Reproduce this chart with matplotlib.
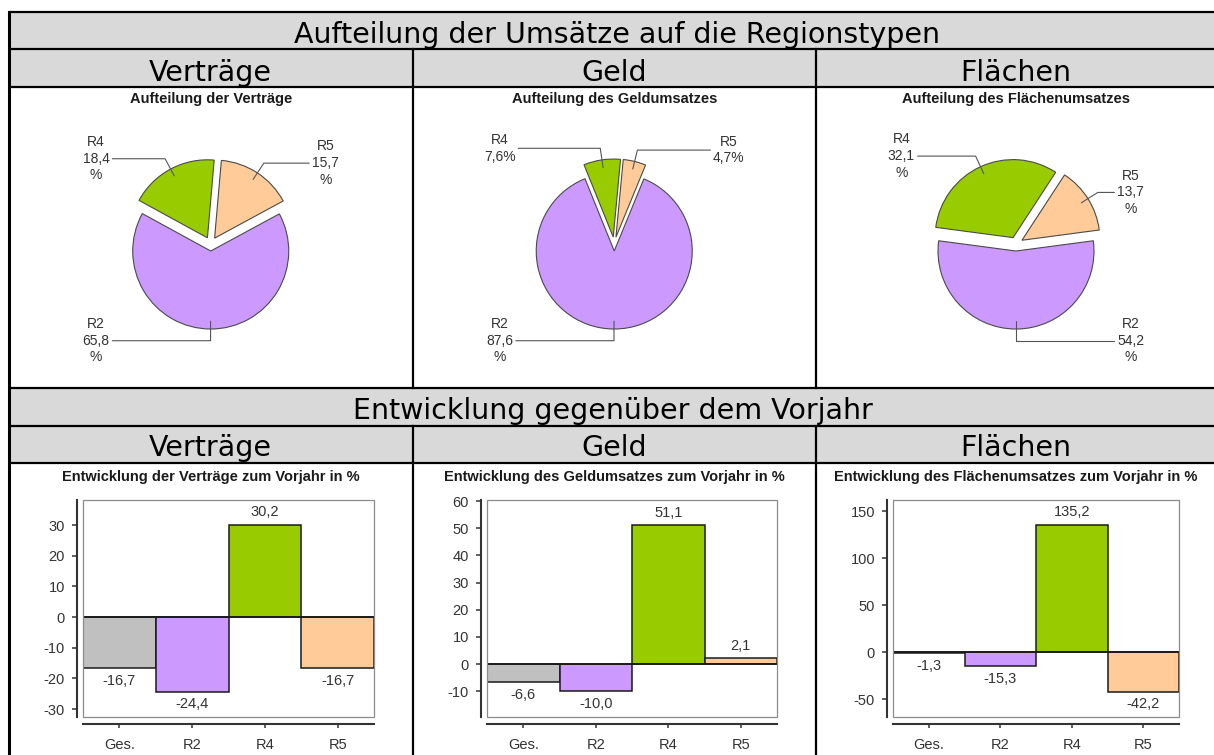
import matplotlib
matplotlib.use("Agg")
import matplotlib.pyplot as plt
from matplotlib.patches import Rectangle
import numpy as np

# ---------------- data ----------------
section_titles = ["Aufteilung der Umsätze auf die Regionstypen",
                  "Entwicklung gegenüber dem Vorjahr"]
column_titles = ["Verträge", "Geld", "Flächen"]
pie_titles = ["Aufteilung der Verträge", "Aufteilung des Geldumsatzes",
              "Aufteilung des Flächenumsatzes"]
bar_titles = ["Entwicklung der Verträge zum Vorjahr in %",
              "Entwicklung des Geldumsatzes zum Vorjahr in %",
              "Entwicklung des Flächenumsatzes zum Vorjahr in %"]

pie_categories = ["R2", "R4", "R5"]
pie_vertraege = [65.8, 18.4, 15.7]
pie_geld = [87.6, 7.6, 4.7]
pie_flaechen = [54.2, 32.1, 13.7]

bar_categories = ["Ges.", "R2", "R4", "R5"]
bar_vertraege = [-16.7, -24.4, 30.2, -16.7]
bar_geld = [-6.6, -10.0, 51.1, 2.1]
bar_flaechen = [-1.3, -15.3, 135.2, -42.2]

# ---------------- style ----------------
plt.rcParams['font.family'] = ['Liberation Sans', 'DejaVu Sans']
plt.rcParams['axes.unicode_minus'] = False

pie_colors = {"R2": "#cc99ff", "R4": "#99cc00", "R5": "#ffcc99"}
bar_colors = ["#c0c0c0", "#cc99ff", "#99cc00", "#ffcc99"]
HEADER_GRAY = "#d9d9d9"
TXT = "#333333"

W, H = 1214, 755
fig = plt.figure(figsize=(W / 100, H / 100), dpi=100)
fig.patch.set_facecolor("white")


def fbox(x0, y0, x1, y1):
    return [x0 / W, 1 - y1 / H, (x1 - x0) / W, (y1 - y0) / H]


# ---------------- table background ----------------
bg = fig.add_axes([0, 0, 1, 1])
bg.set_xlim(0, W)
bg.set_ylim(H, 0)
bg.axis("off")

XL, XC1, XC2, XR = 9, 412.5, 816, 1216
col_centers = [(XL + XC1) / 2, (XC1 + XC2) / 2, (XC2 + XR) / 2]
rows = [12, 49, 87, 388, 426, 463, 760]

for (ya, yb) in [(rows[0], rows[1]), (rows[1], rows[2]), (rows[3], rows[4]), (rows[4], rows[5])]:
    bg.add_patch(Rectangle((XL, ya), XR - XL, yb - ya, facecolor=HEADER_GRAY, edgecolor="none"))
for y in rows[:6]:
    bg.plot([XL, XR], [y, y], color="black", lw=1.6, solid_capstyle="butt")
bg.plot([XL, XL], [rows[0], H], color="black", lw=2.2)
for xc in (XC1, XC2):
    bg.plot([xc, xc], [rows[1], rows[3]], color="black", lw=1.6)
    bg.plot([xc, xc], [rows[4], H], color="black", lw=1.6)

head_kw = dict(family="DejaVu Sans", fontsize=20.5, color="black", ha="center", va="baseline")
bg.text((XL + XR) / 2 + 4, 43, section_titles[0], **head_kw)
bg.text((XL + XR) / 2, 419, section_titles[1], **head_kw)
for cx, t in zip(col_centers, column_titles):
    bg.text(cx, 81, t, **head_kw)
    bg.text(cx, 456, t, **head_kw)

for cx, t in zip(col_centers, pie_titles):
    bg.text(cx, 103, t, fontsize=10.5, fontweight="bold", color="#1a1a1a", ha="center", va="baseline")
for cx, t in zip(col_centers, bar_titles):
    bg.text(cx, 481, t, fontsize=10.5, fontweight="bold", color="#1a1a1a", ha="center", va="baseline")

# ---------------- pies ----------------
R_PX = 78.0
PIE_CY = 244
S = 300
lim = S / 2 / R_PX
pie_sets = [pie_vertraege, pie_geld, pie_flaechen]
label_sides = [{"R2": -1, "R4": -1, "R5": 1},
               {"R2": -1, "R4": -1, "R5": 1},
               {"R2": 1, "R4": -1, "R5": 1}]


def fmt(v):
    return f"{v:.1f}".replace(".", ",")


for k, vals in enumerate(pie_sets):
    cx = col_centers[k]
    ax = fig.add_axes(fbox(cx - S / 2, PIE_CY - S / 2, cx + S / 2, PIE_CY + S / 2))
    wedges, _ = ax.pie(vals, colors=[pie_colors[c] for c in pie_categories],
                       startangle=270 + 1.8 * vals[0], counterclock=False,
                       explode=[0.09] * len(vals),
                       wedgeprops=dict(edgecolor="#4a4a4a", linewidth=0.8))
    ax.set_xlim(-lim, lim)
    ax.set_ylim(-lim, lim)
    ax.set_aspect("equal")
    ax.axis("off")
    for w, name, v in zip(wedges, pie_categories, vals):
        mid_deg = (w.theta1 + w.theta2) / 2
        mid = np.deg2rad(mid_deg)
        wx, wy = w.center
        anchor = (wx + 0.9 * np.cos(mid), wy + 0.9 * np.sin(mid))
        ty = wy + 1.15 * np.sin(mid)
        tx = 1.47 * label_sides[k][name]
        label = f"{name}\n{fmt(v)}%" if v < 10 else f"{name}\n{fmt(v)}\n%"
        ax.annotate(label, xy=anchor, xytext=(tx, ty), ha="center", va="center",
                    fontsize=10, color=TXT, linespacing=1.25,
                    arrowprops=dict(arrowstyle="-", color="#555555", lw=0.8,
                                    shrinkA=0, shrinkB=0,
                                    connectionstyle=f"angle,angleA=0,angleB={mid_deg},rad=0"))

# ---------------- bars ----------------
bar_sets = [bar_vertraege, bar_geld, bar_flaechen]
bar_x = [(83, 374), (487, 777), (893, 1179)]
bar_ylims = [(-32.6, 38.2), (-19.5, 60.4), (-69.1, 161.7)]
bar_ticks = [np.arange(-30, 31, 10), np.arange(-10, 61, 10), np.arange(-50, 151, 50)]

for k, vals in enumerate(bar_sets):
    x0, x1 = bar_x[k]
    ax = fig.add_axes(fbox(x0, 500, x1, 717))
    xs = np.arange(len(bar_categories))
    ax.bar(xs, vals, width=1.0, color=bar_colors, edgecolor="#1a1a1a", linewidth=1.1, zorder=3)
    ax.axhline(0, color="#1a1a1a", lw=1.3, zorder=4)
    ax.set_xlim(-0.5, len(xs) - 0.5)
    ax.set_ylim(*bar_ylims[k])
    ax.set_yticks(bar_ticks[k])
    ax.set_xticks(xs, bar_categories)
    for s in ("top", "right"):
        ax.spines[s].set_visible(False)
    ax.spines["left"].set_position(("outward", 4.3))
    ax.spines["bottom"].set_position(("outward", 5))
    for s in ("left", "bottom"):
        ax.spines[s].set_color("#333333")
        ax.spines[s].set_linewidth(1.5)
    ax.tick_params(axis="y", length=3.6, width=1.1, pad=5, labelsize=10.5, labelcolor=TXT, color="#333333")
    ax.tick_params(axis="x", length=3, width=1.1, pad=7, labelsize=10.5, labelcolor=TXT, color="#333333")
    ax.add_patch(Rectangle((0, 0), 1, 1, transform=ax.transAxes, fill=False,
                           edgecolor="#8c8c8c", lw=0.9, clip_on=False, zorder=5))
    for xi, v in zip(xs, vals):
        ax.annotate(fmt(v), (xi, v), xytext=(0, 4 if v >= 0 else -4), textcoords="offset points",
                    ha="center", va="bottom" if v >= 0 else "top", fontsize=10.5, color=TXT)

fig.savefig("out.png", dpi=100)
